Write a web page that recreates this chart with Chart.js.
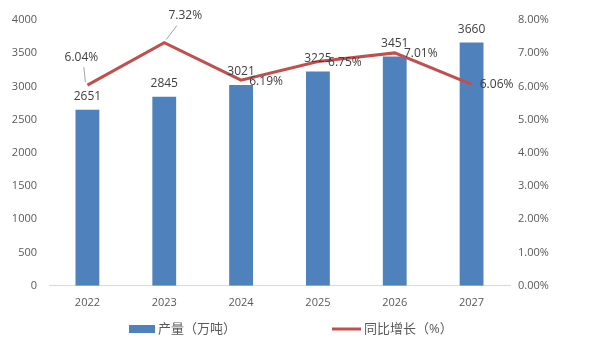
<!DOCTYPE html>
<html>
<head>
<meta charset="utf-8">
<script src="https://cdn.jsdelivr.net/npm/chart.js@4/dist/chart.umd.min.js"></script>
<style>
  html, body { margin: 0; padding: 0; background: #fff; }
  #wrap { width: 592px; height: 351px; }
</style>
</head>
<body>
<div id="wrap"><canvas id="grafico"></canvas></div>
<script>
var anos = ["2022", "2023", "2024", "2025", "2026", "2027"];
var producao = [2651, 2845, 3021, 3225, 3451, 3660];
var crescimento = [6.04, 7.32, 6.19, 6.75, 7.01, 6.06];
var ticksEsquerda = [0, 500, 1000, 1500, 2000, 2500, 3000, 3500, 4000];
var ticksDireita = [0, 1, 2, 3, 4, 5, 6, 7, 8];
var nomesSeries = ["产量（万吨）", "同比增长（%）"];

var corBarra = "#4f81bd";
var corLinha = "#c0504d";
var fonte = "'Open Sans', 'Noto Sans CJK SC', sans-serif";

// onde fica o rótulo de cada ponto da linha (dx, dy em px, e se tem linha guia)
var posRotulos = [
  { dx: -6, dy: -28, guia: true },
  { dx: 21, dy: -27, guia: true },
  { dx: 25, dy: 1 },
  { dx: 27, dy: 1 },
  { dx: 26, dy: 1 },
  { dx: 25, dy: 0 },
];

var rotulosPlugin = {
  id: "rotulos",
  afterDatasetsDraw: function (chart) {
    var ctx = chart.ctx;
    ctx.save();
    ctx.font = "12px " + fonte;
    ctx.fillStyle = "#404040";
    ctx.textAlign = "center";
    ctx.textBaseline = "middle";

    chart.getDatasetMeta(0).data.forEach(function (bar, i) {
      ctx.fillText(String(producao[i]), bar.x, bar.y - 13);
    });

    chart.getDatasetMeta(1).data.forEach(function (pt, i) {
      var p = posRotulos[i];
      if (p.guia) {
        ctx.strokeStyle = "#a6a6a6";
        ctx.lineWidth = 1;
        ctx.beginPath();
        ctx.moveTo(pt.x + (p.dx > 0 ? 2 : -2), pt.y - 3);
        ctx.lineTo(pt.x + p.dx * 0.6, pt.y + p.dy + 10);
        ctx.stroke();
      }
      ctx.fillText(crescimento[i].toFixed(2) + "%", pt.x + p.dx, pt.y + p.dy);
    });
    ctx.restore();
  },
};

// legenda desenhada à mão pra acertar o espaçamento
var legendaPlugin = {
  id: "legenda",
  afterDraw: function (chart) {
    var ctx = chart.ctx;
    var y = 329;
    ctx.save();
    ctx.font = "13px " + fonte;
    ctx.fillStyle = "#595959";
    ctx.textAlign = "left";
    ctx.textBaseline = "middle";

    ctx.fillStyle = corBarra;
    ctx.fillRect(129, y - 4, 26, 8);
    ctx.fillStyle = "#595959";
    ctx.fillText(nomesSeries[0], 158, y);

    ctx.strokeStyle = corLinha;
    ctx.lineWidth = 3;
    ctx.beginPath();
    ctx.moveTo(332, y);
    ctx.lineTo(361, y);
    ctx.stroke();
    ctx.fillText(nomesSeries[1], 364, y);
    ctx.restore();
  },
};

const config = {
  data: {
    labels: anos,
    datasets: [
      {
        type: "bar",
        label: nomesSeries[0],
        data: producao,
        yAxisID: "y",
        backgroundColor: corBarra,
        barPercentage: 0.31,
        categoryPercentage: 1,
        order: 1,
      },
      {
        type: "line",
        label: nomesSeries[1],
        data: crescimento,
        yAxisID: "y1",
        borderColor: corLinha,
        backgroundColor: corLinha,
        borderWidth: 3,
        pointRadius: 0,
        tension: 0,
        order: 0,
      },
    ],
  },
  options: {
    responsive: true,
    maintainAspectRatio: false,
    animation: { duration: 0 },
    layout: { padding: { top: 20, bottom: 32, left: 0, right: 0 } },
    plugins: {
      tooltip: { enabled: false },
      legend: { display: false },
    },
    scales: {
      x: {
        grid: { display: false, drawTicks: false },
        border: { display: true, color: "#d9d9d9" },
        ticks: { color: "#595959", font: { size: 11, family: fonte }, padding: 10 },
      },
      y: {
        position: "left",
        min: 0,
        max: 4000,
        afterBuildTicks: function (scale) {
          scale.ticks = ticksEsquerda.map(function (v) { return { value: v }; });
        },
        afterFit: function (scale) { scale.width = 49; },
        grid: { display: false, drawTicks: false },
        border: { display: false },
        ticks: {
          color: "#595959",
          font: { size: 11, family: fonte },
          padding: 12,
          callback: function (v) { return String(v); },
        },
      },
      y1: {
        position: "right",
        min: 0,
        max: 8,
        afterBuildTicks: function (scale) {
          scale.ticks = ticksDireita.map(function (v) { return { value: v }; });
        },
        afterFit: function (scale) { scale.width = 82; },
        grid: { display: false, drawTicks: false },
        border: { display: false },
        ticks: {
          color: "#595959",
          font: { size: 11, family: fonte },
          padding: 8,
          callback: function (v) { return v.toFixed(2) + "%"; },
        },
      },
    },
  },
  plugins: [rotulosPlugin, legendaPlugin],
};

new Chart(document.getElementById("grafico"), config);
</script>
</body>
</html>
